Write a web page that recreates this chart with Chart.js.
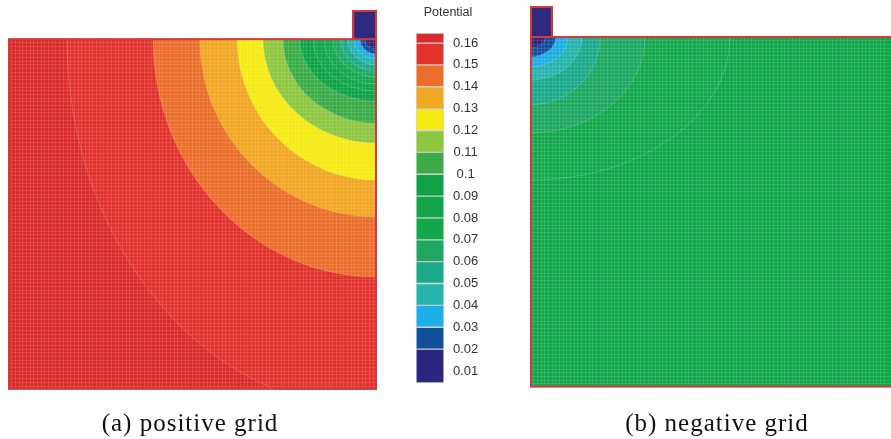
<!DOCTYPE html>
<html>
<head>
<meta charset="utf-8">
<script src="https://cdn.jsdelivr.net/npm/chart.js@4.4.0/dist/chart.umd.min.js"></script>
<style>
  body { margin: 0; background: #fff; }
  #wrap { position: relative; width: 891px; height: 439px; overflow: hidden; background: #fff; }
  canvas { position: absolute; top: 0; }
  .cap { position: absolute; width: 300px; text-align: center; font-family: "Liberation Serif", serif;
         font-size: 25px; line-height: 25px; letter-spacing: 1px; color: #111; white-space: nowrap; }
</style>
</head>
<body>
<div id="wrap">
  <canvas id="pos" width="400" height="439" style="left:0"></canvas>
  <canvas id="bar" width="100" height="439" style="left:400px"></canvas>
  <canvas id="neg" width="386" height="439" style="left:505px"></canvas>
  <div class="cap" style="left:40px;top:410px">(a) positive grid</div>
  <div class="cap" style="left:567px;top:410px">(b) negative grid</div>
</div>
<script>
// colour bar of the potential
const tickValues = [0.16, 0.15, 0.14, 0.13, 0.12, 0.11, 0.1, 0.09, 0.08, 0.07, 0.06, 0.05, 0.04, 0.03, 0.02, 0.01];
const tickLabels = ['0.16', '0.15', '0.14', '0.13', '0.12', '0.11', '0.1', '0.09', '0.08', '0.07', '0.06', '0.05', '0.04', '0.03', '0.02', '0.01'];
const bandLow  = [0.0045, 0.02, 0.03, 0.04, 0.05, 0.06, 0.07, 0.08, 0.09, 0.10, 0.11, 0.12, 0.13, 0.14, 0.15, 0.16];
const bandHigh = [0.02, 0.03, 0.04, 0.05, 0.06, 0.07, 0.08, 0.09, 0.10, 0.11, 0.12, 0.13, 0.14, 0.15, 0.16, 0.1646];
const bandColors = ['#2c2680', '#0f4f9c', '#1caee8', '#24b3ad', '#1aa98b', '#1ea862', '#14a84c', '#11a649',
                    '#0fa246', '#3cac48', '#8dc63f', '#f6ea13', '#f1a722', '#ec6e2b', '#e1322c', '#da2d2b'];

// (a) positive grid - contour levels round the electrode corner, radii in mesh units
const posLevels  = [0.16, 0.15, 0.14, 0.13, 0.12, 0.11, 0.10, 0.09, 0.08, 0.07, 0.06, 0.05, 0.04, 0.03, 0.02];
const posRadiusX = [84.0, 60.7, 48.0, 37.9, 30.9, 25.5, 20.9, 17.3, 14.4, 11.9, 9.8, 7.9, 6.2, 4.6, 3.3];
const posRadiusY = [100.5, 64.5, 48.2, 38.2, 28.2, 22.8, 16.8, 14.1, 12.2, 10.3, 8.7, 7.0, 5.4, 4.1, 2.7];

// (b) negative grid
const negLevels  = [0.08, 0.07, 0.06, 0.05, 0.04, 0.03, 0.02];
const negRadiusX = [54.2, 31.2, 19.0, 14.1, 10.3, 7.0, 4.3];
const negRadiusY = [38.8, 26.0, 18.4, 11.7, 8.1, 5.4, 3.0];

function colorFor(v) {
  for (let i = 0; i < bandLow.length; i++) {
    if (v >= bandLow[i] && v < bandHigh[i]) return bandColors[i];
  }
  return v < bandLow[0] ? bandColors[0] : bandColors[bandColors.length - 1];
}

// draws the filled contours, the mesh border and the electrode of one panel
function contourPlugin(spec) {
  return {
    id: 'contours',
    beforeDatasetsDraw(chart) {
      const ctx = chart.ctx, x = chart.scales.x, y = chart.scales.y;
      const x0 = x.getPixelForValue(0), x1 = x.getPixelForValue(spec.width);
      const y0 = y.getPixelForValue(0), y1 = y.getPixelForValue(spec.depth);
      const cx = x.getPixelForValue(spec.center[0]), cy = y.getPixelForValue(spec.center[1]);
      ctx.save();
      ctx.beginPath();
      ctx.rect(x0, y0, x1 - x0, y1 - y0);
      ctx.clip();
      ctx.fillStyle = colorFor(spec.levels[0] + 0.005);
      ctx.fillRect(x0, y0, x1 - x0, y1 - y0);
      spec.levels.forEach(function(lev, i) {
        const rx = Math.abs(x.getPixelForValue(spec.center[0] + spec.rx[i]) - cx);
        const ry = Math.abs(y.getPixelForValue(spec.center[1] + spec.ry[i]) - cy);
        ctx.beginPath();
        ctx.ellipse(cx, cy, rx, ry, 0, 0, Math.PI * 2);
        ctx.fillStyle = colorFor(lev - 0.005);
        ctx.fill();
        ctx.strokeStyle = 'rgba(255,255,255,0.18)';
        ctx.lineWidth = 1;
        ctx.stroke();
      });
      ctx.restore();
    },
    afterDraw(chart) {
      const ctx = chart.ctx, x = chart.scales.x, y = chart.scales.y;
      const x0 = x.getPixelForValue(0), x1 = x.getPixelForValue(spec.width);
      const y0 = y.getPixelForValue(0), y1 = y.getPixelForValue(spec.depth);
      const ex0 = x.getPixelForValue(spec.electrode[0]), ex1 = x.getPixelForValue(spec.electrode[1]);
      const ey0 = y.getPixelForValue(spec.electrodeTop);
      ctx.save();
      ctx.lineWidth = 2;
      ctx.strokeStyle = '#d23a3c';
      ctx.strokeRect(x0 + 1, y0, x1 - x0 - 2, y1 - y0 - 1);
      ctx.fillStyle = '#2d2a80';
      ctx.fillRect(ex0, ey0, ex1 - ex0, y0 - ey0);
      ctx.strokeRect(ex0 + 1, ey0 + 1, ex1 - ex0 - 2, y0 - ey0 - 1);
      ctx.restore();
    }
  };
}

function meshScale(min, max, reverse) {
  return {
    type: 'linear', min: min, max: max, reverse: reverse,
    ticks: { display: false, stepSize: 1 },
    border: { display: false },
    grid: { color: 'rgba(255,255,255,0.11)', drawTicks: false, z: 1 }
  };
}

function panel(id, spec, pad) {
  new Chart(document.getElementById(id), {
    type: 'scatter',
    data: { datasets: [] },
    options: {
      responsive: false,
      animation: false,
      devicePixelRatio: 1,
      layout: { padding: pad },
      plugins: { legend: { display: false }, tooltip: { enabled: false } },
      scales: {
        x: meshScale(0, spec.xMax, false),
        y: meshScale(spec.electrodeTop, spec.depth, true)
      }
    },
    plugins: [contourPlugin(spec)]
  });
}

panel('pos', {
  width: 100, depth: 95, xMax: 100, center: [100, 0],
  electrode: [93.3, 100], electrodeTop: -7.9,
  levels: posLevels, rx: posRadiusX, ry: posRadiusY
}, { left: 8, right: 23, top: 10, bottom: 49.3 });

panel('neg', {
  width: 100, depth: 95, xMax: 97.8, center: [0, 0],
  electrode: [0, 6.2], electrodeTop: -8.4,
  levels: negLevels, rx: negRadiusX, ry: negRadiusY
}, { left: 25, right: 0, top: 6, bottom: 51.5 });

// colour bar
new Chart(document.getElementById('bar'), {
  type: 'bar',
  data: {
    labels: ['Potential'],
    datasets: bandColors.map(function(c, i) {
      return {
        data: [[bandLow[i], bandHigh[i]]],
        backgroundColor: c,
        borderColor: 'rgba(0,0,0,0.16)',
        borderWidth: 1,
        borderSkipped: false,
        grouped: false,
        barPercentage: 1,
        categoryPercentage: 1
      };
    })
  },
  options: {
    responsive: false,
    animation: false,
    devicePixelRatio: 1,
    layout: { padding: { left: 16, right: 20, top: 0, bottom: 56 } },
    plugins: {
      legend: { display: false },
      tooltip: { enabled: false },
      title: {
        display: true, text: 'Potential', color: '#333',
        font: { family: '"Liberation Sans", Arial, sans-serif', size: 12.5, weight: 'normal' },
        padding: { top: 5, bottom: 13 }
      }
    },
    scales: {
      x: { display: false },
      y: {
        position: 'right', min: 0.0045, max: 0.1646,
        afterBuildTicks: function(s) { s.ticks = tickValues.map(function(v) { return { value: v }; }); },
        afterFit: function(s) { s.width = 36; },
        grid: { display: false, drawTicks: false },
        border: { display: false },
        ticks: {
          padding: 9, crossAlign: 'center', color: '#333',
          font: { family: '"Liberation Sans", Arial, sans-serif', size: 13 },
          callback: function(v) {
            const i = tickValues.findIndex(function(t) { return Math.abs(t - v) < 1e-9; });
            return tickLabels[i];
          }
        }
      }
    }
  }
});
</script>
</body>
</html>
